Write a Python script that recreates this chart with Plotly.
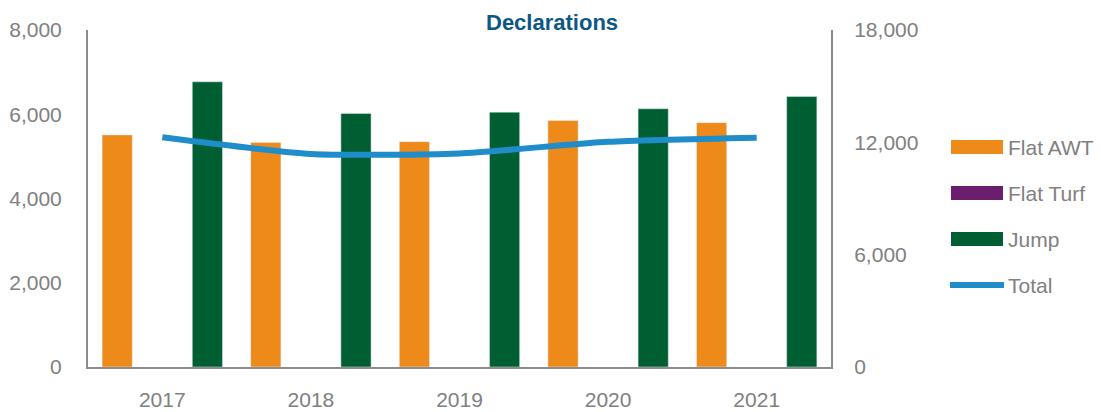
import plotly.graph_objects as go

years = ["2017", "2018", "2019", "2020", "2021"]
flat_awt = [5510, 5330, 5350, 5850, 5800]
flat_turf = [0, 0, 0, 0, 0]
jump = [6770, 6020, 6050, 6130, 6420]
total = [12270, 11380, 11410, 12030, 12250]

left_ticks = [0, 2000, 4000, 6000, 8000]
right_ticks = [0, 6000, 12000, 18000]

C_AWT = "#EE8A19"
C_TURF = "#6B1E6E"
C_JUMP = "#005E33"
C_TOTAL = "#1E8DCA"
C_TITLE = "#0C5784"
C_TEXT = "#808080"
C_AXIS = "#8C8C8C"
FONT = "Liberation Sans, Arial, sans-serif"

W, H = 1101, 412
L, R, T, B = 88, 831, 30, 367

fig = go.Figure()
fig.add_trace(go.Bar(x=years, y=flat_awt, name="Flat AWT", marker_color=C_AWT, showlegend=False))
fig.add_trace(go.Bar(x=years, y=flat_turf, name="Flat Turf", marker_color=C_TURF,
                     marker_line_width=0, showlegend=False))
fig.add_trace(go.Bar(x=years, y=jump, name="Jump", marker_color=C_JUMP, showlegend=False))
fig.add_trace(go.Scatter(x=years, y=total, name="Total", mode="lines", yaxis="y2",
                         line=dict(color=C_TOTAL, width=6, shape="spline", smoothing=0.6),
                         showlegend=False))

def px(x):
    return (x - L) / (R - L)

def py(y):
    return (B - y) / (B - T)

shapes = []
annotations = []
legend_items = [("Flat AWT", C_AWT, 147, "rect"), ("Flat Turf", C_TURF, 193, "rect"),
                ("Jump", C_JUMP, 239, "rect"), ("Total", C_TOTAL, 285, "line")]
for name, col, yc, kind in legend_items:
    if kind == "rect":
        shapes.append(dict(type="rect", xref="paper", yref="paper",
                           x0=px(951), x1=px(1003), y0=py(yc + 7), y1=py(yc - 7),
                           fillcolor=col, line=dict(width=0)))
    else:
        shapes.append(dict(type="line", xref="paper", yref="paper",
                           x0=px(950), x1=px(1004), y0=py(yc), y1=py(yc),
                           line=dict(color=col, width=6)))
    annotations.append(dict(text=name, xref="paper", yref="paper", x=px(1006), y=py(yc),
                            xanchor="left", yanchor="middle", showarrow=False,
                            font=dict(family=FONT, size=21, color=C_TEXT)))

annotations.append(dict(text="<b>Declarations</b>", xref="paper", yref="paper",
                        x=px(552), y=py(22), xanchor="center", yanchor="middle",
                        showarrow=False, font=dict(family=FONT, size=22, color=C_TITLE)))

fig.update_layout(
    width=W, height=H,
    margin=dict(l=L, r=W - R, t=T, b=H - B, pad=0, autoexpand=False),
    paper_bgcolor="white", plot_bgcolor="white",
    barmode="group", bargap=0.09, bargroupgap=0.33,
    font=dict(family=FONT, size=21, color=C_TEXT),
    xaxis=dict(type="category", showgrid=False, zeroline=False, showline=True,
               linecolor=C_AXIS, linewidth=2, ticks="", ticklabelstandoff=13, automargin=False,
               tickfont=dict(family=FONT, size=21, color=C_TEXT)),
    yaxis=dict(range=[0, 8000], tickvals=left_ticks, tickformat=",", showgrid=False,
               zeroline=False, showline=True, linecolor=C_AXIS, linewidth=2, ticks="",
               ticklabelstandoff=20, automargin=False,
               tickfont=dict(family=FONT, size=21, color=C_TEXT)),
    yaxis2=dict(range=[0, 18000], tickvals=right_ticks, tickformat=",", overlaying="y",
                side="right", showgrid=False, zeroline=False, showline=True,
                linecolor=C_AXIS, linewidth=2, ticks="", ticklabelstandoff=17, automargin=False,
                tickfont=dict(family=FONT, size=21, color=C_TEXT)),
    shapes=shapes, annotations=annotations,
    showlegend=False,
)

fig.write_html("out.html", config={"displayModeBar": False},
               post_script="document.body.style.margin='0';document.body.style.overflow='hidden';")
